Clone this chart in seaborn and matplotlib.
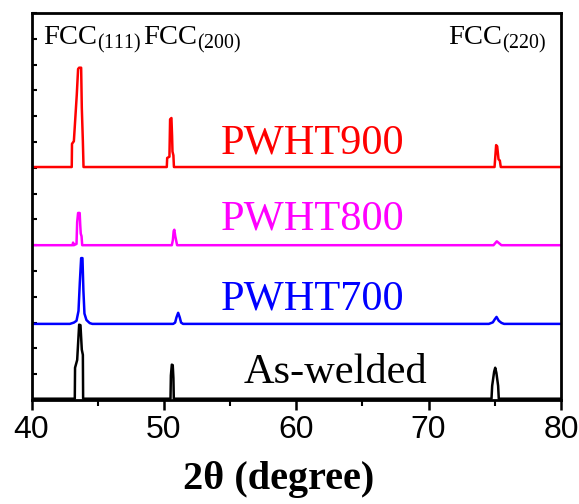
import matplotlib
matplotlib.use("Agg")
import matplotlib.pyplot as plt
import seaborn as sns
import pandas as pd
from matplotlib.ticker import MultipleLocator

# ---- data (2theta in degrees, intensity above each trace's baseline, arb. units) ----
samples = ["As-welded", "PWHT700", "PWHT800", "PWHT900"]
offsets = [0.05, 2.95, 6.0, 9.03]
colors = ["#000000", "#0000FF", "#FF00FF", "#FF0000"]

aswelded_x = [40, 43.27, 43.29, 43.45, 43.6, 43.7, 43.8, 43.88, 43.9, 50.5, 50.53, 50.6, 50.67,
              50.72, 50.75, 74.75, 74.8, 74.95, 75.03, 75.12, 75.25, 75.3, 80]
aswelded_y = [0, 0, 1.2, 1.5, 2.87, 2.85, 1.9, 1.7, 0, 0, 0.9, 1.32, 1.3,
              0.8, 0, 0, 0.5, 1.05, 1.2, 1.0, 0.5, 0, 0]

pwht700_x = [40, 42.9, 43.2, 43.4, 43.55, 43.65, 43.75, 43.85, 43.92, 44.0, 44.15, 44.4, 44.6,
             50.7, 50.85, 50.95, 51.08, 51.2, 51.3, 51.45,
             74.55, 74.85, 75.0, 75.13, 75.3, 75.5, 75.7, 80]
pwht700_y = [0, 0, 0.05, 0.12, 0.5, 1.6, 2.55, 2.55, 1.3, 0.4, 0.15, 0.03, 0,
             0, 0.05, 0.25, 0.43, 0.25, 0.05, 0,
             0, 0.06, 0.18, 0.27, 0.12, 0.04, 0, 0]

pwht800_x = [40, 43.1, 43.14, 43.2, 43.4, 43.45, 43.52, 43.64, 43.68, 43.72, 43.78, 43.83,
             50.6, 50.68, 50.74, 50.79, 50.86, 50.92, 51.0,
             74.9, 75.15, 75.5, 80]
pwht800_y = [0, 0, 0.1, 0, 0.05, 0.9, 1.25, 1.25, 0.8, 0.45, 0.35, 0,
             0, 0.2, 0.55, 0.6, 0.35, 0.2, 0,
             0, 0.15, 0, 0]

pwht900_x = [40, 43.04, 43.06, 43.2, 43.42, 43.52, 43.6, 43.75, 43.8, 43.88, 43.93,
             50.22, 50.25, 50.42, 50.47, 50.57, 50.62, 50.65, 50.72, 50.76,
             74.98, 75.1, 75.18, 75.28, 75.38, 75.45, 80]
pwht900_y = [0, 0, 0.9, 1.0, 2.8, 3.8, 3.85, 3.85, 2.3, 1.0, 0,
             0, 0.35, 0.4, 1.85, 1.9, 1.2, 0.6, 0.45, 0,
             0, 0.85, 0.8, 0.3, 0.25, 0, 0]

peak_labels = ["(111)", "(200)", "(220)"]
x_ticks = [40, 50, 60, 70, 80]

# ---- build long table ----
series_x = [aswelded_x, pwht700_x, pwht800_x, pwht900_x]
series_y = [aswelded_y, pwht700_y, pwht800_y, pwht900_y]
rows = []
for name, off, xs, ys in zip(samples, offsets, series_x, series_y):
    for i, (xv, yv) in enumerate(zip(xs, ys)):
        rows.append({"sample": name, "order": i, "two_theta": xv, "intensity": yv + off})
df = pd.DataFrame(rows)

sns.set_theme(style="ticks")
plt.rcParams["mathtext.fontset"] = "custom"
plt.rcParams["mathtext.rm"] = "Liberation Serif"
plt.rcParams["font.family"] = ["Liberation Serif", "DejaVu Sans"]
plt.rcParams["text.color"] = "black"

fig = plt.figure(figsize=(5.79, 5.04), dpi=100)
ax = fig.add_axes([31.5 / 579, 1 - 400 / 504, (561 - 31.5) / 579, (400 - 13) / 504])

sns.lineplot(data=df, x="two_theta", y="intensity", hue="sample", hue_order=samples,
             palette=dict(zip(samples, colors)), sort=False, estimator=None,
             legend=False, linewidth=1.8, ax=ax)

ax.set_xlim(40, 80)
ax.set_ylim(0, 15)
ax.set_xticks(x_ticks)
ax.xaxis.set_minor_locator(MultipleLocator(5))
ax.yaxis.set_major_locator(MultipleLocator(1))
ax.set_yticklabels([])
ax.set_ylabel("")
ax.tick_params(axis="x", which="major", direction="out", length=7, width=1.8,
               labelsize=23, pad=4, color="black", labelcolor="black")
ax.tick_params(axis="x", which="minor", direction="out", length=4, width=1.5, color="black")
ax.tick_params(axis="y", which="major", direction="in", length=3.5, width=1.5, left=True,
               color="black")
for lab in ax.get_xticklabels():
    lab.set_fontfamily("Liberation Sans")
for sp in ax.spines.values():
    sp.set_visible(True)
    sp.set_linewidth(2.0)
    sp.set_color("black")

ax.set_xlabel("")
fig.text(279 / 579, 1 - 480 / 504, "2θ (degree)", ha="center", va="center",
         fontsize=29, fontweight="bold", family="Liberation Serif", color="black")

# peak annotations
ann_x = [40.87, 48.43, 71.5]
for xp, pl in zip(ann_x, peak_labels):
    ax.text(xp, 13.76, r"$\mathrm{FCC}_{\mathrm{" + pl + r"}}$", fontsize=20.5,
            color="black", va="baseline", ha="left")

# sample labels
lab_x = [56.0, 54.26, 54.26, 54.26]
lab_y = [0.66, 3.49, 6.59, 9.57]
for name, col, lx, ly in zip(samples, colors, lab_x, lab_y):
    ax.text(lx, ly, name, fontsize=30.5, color=col, va="baseline", ha="left",
            family="Liberation Serif")

fig.savefig("out.png", dpi=100)
